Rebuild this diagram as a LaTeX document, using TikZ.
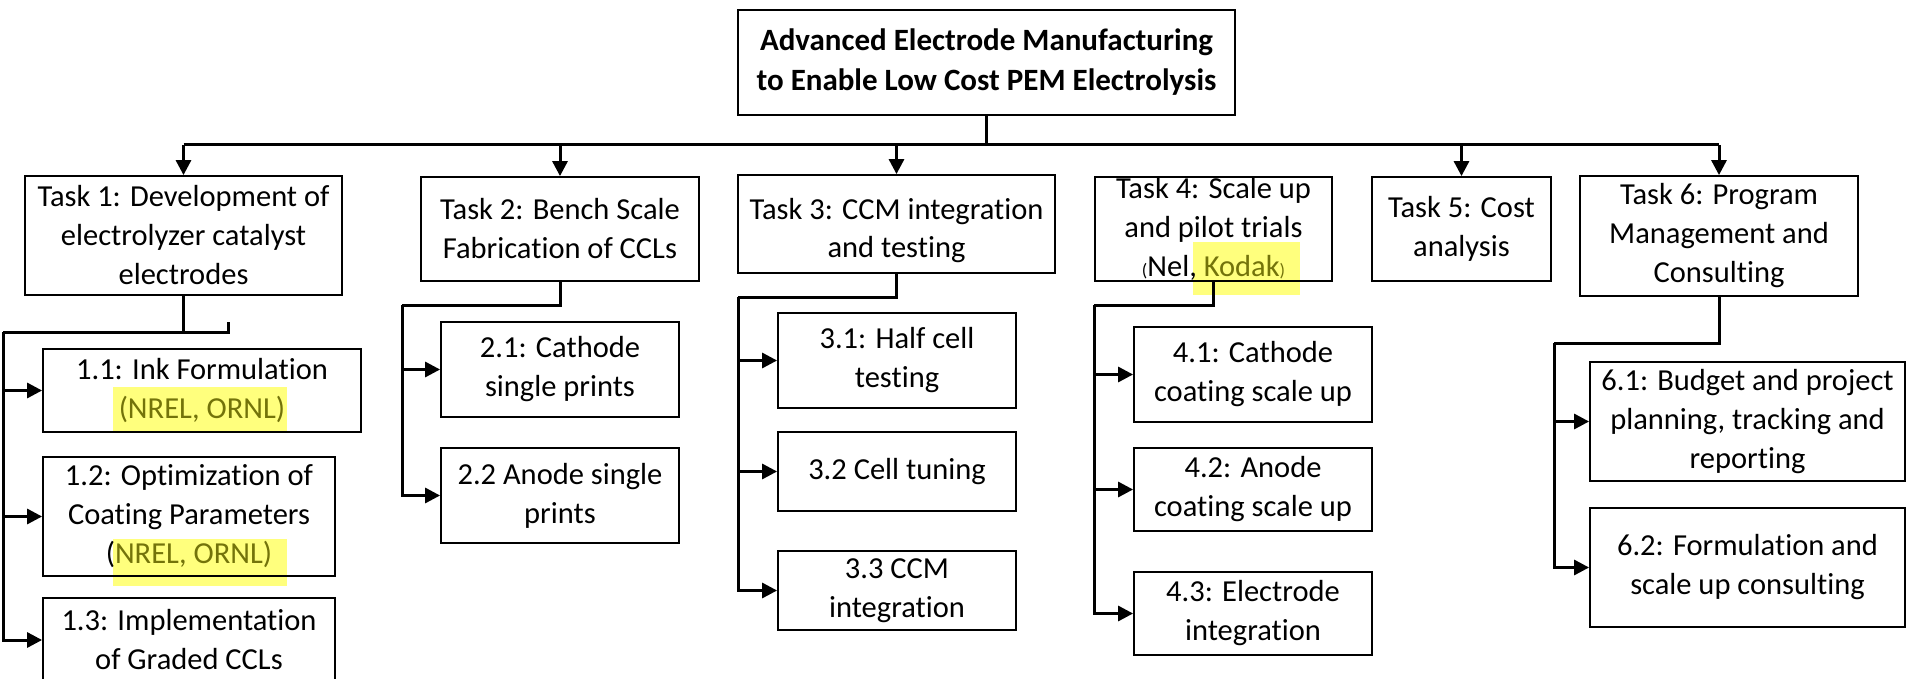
\documentclass[tikz,border=0pt]{standalone}
\usepackage{fontspec}
\setmainfont{Carlito}[Ligatures={NoCommon},RawFeature={-liga;-clig;-calt;-dlig}]
\usetikzlibrary{arrows.meta}
\definecolor{oltext}{RGB}{115,115,10}
\definecolor{hlyellow}{RGB}{255,255,125}
\newcommand{\ol}[1]{\textcolor{oltext}{#1}}
\newcommand{\smp}[1]{{\fontsize{18}{18}\selectfont #1}}
\tikzset{
  box/.style={draw=black, line width=1.8pt, inner sep=0pt, align=center,
    font=\fontsize{30.5}{39}\selectfont},
  titlebox/.style={box, font=\bfseries\fontsize{31}{40}\selectfont},
  conn/.style={line width=3pt},
  arr/.style={line width=3pt, -{Triangle[length=15pt,width=15pt]}},
  hl/.style={fill=hlyellow}
}
\begin{document}
\begin{tikzpicture}[x=1pt,y=-1pt]
\useasboundingbox (0,0) rectangle (1907,679);
\clip (0,0) rectangle (1907,679);
\fill[white] (0,0) rectangle (1907,679);
% highlights
\fill[hl] (113,387) rectangle (287,433);
\fill[hl] (113,539) rectangle (287,586);
\fill[hl] (1193,242) rectangle (1300,295);
% top
\node[titlebox, minimum width=497pt, minimum height=105pt] (top) at (986.5,62.5)
  {Advanced Electrode Manufacturing\\to Enable Low Cost PEM Electrolysis};
% tasks
\node[box, minimum width=317pt, minimum height=119pt] (t1) at (183.5,235.5)
  {Task 1: Development of\\electrolyzer catalyst\\electrodes};
\node[box, minimum width=278pt, minimum height=104pt] (t2) at (560,229)
  {Task 2: Bench Scale\\Fabrication of CCLs};
\node[box, minimum width=317pt, minimum height=98pt] (t3) at (896.5,224)
  {\raisebox{-7pt}[\height][\depth]{\begin{tabular}{@{}c@{}}Task 3: CCM integration\\[-1pt]and testing\end{tabular}}};
\node[box, minimum width=237pt, minimum height=104pt] (t4) at (1213.5,229)
  {Task 4: Scale up\\and pilot trials\\\smp{(}Nel, \ol{Kodak\smp{)}}};
\node[box, minimum width=179pt, minimum height=104pt] (t5) at (1461.5,229)
  {Task 5: Cost\\analysis};
\node[box, minimum width=278pt, minimum height=120pt] (t6) at (1719,236)
  {Task 6: Program\\Management and\\Consulting};
% subtasks
\node[box, minimum width=318pt, minimum height=83pt] (s11) at (202,390.5)
  {1.1: Ink Formulation\\\ol{(NREL, ORNL)}};
\node[box, minimum width=292pt, minimum height=119pt] (s12) at (189,516.5)
  {1.2: Optimization of\\Coating Parameters\\(\ol{NREL, ORNL)}};
\node[box, minimum width=292pt, minimum height=84pt] (s13) at (189,640)
  {1.3: Implementation\\of Graded CCLs};
\node[box, minimum width=238pt, minimum height=95pt] (s21) at (560,369.5)
  {2.1: Cathode\\single prints};
\node[box, minimum width=238pt, minimum height=95pt] (s22) at (560,495.5)
  {2.2 Anode single\\prints};
\node[box, minimum width=238pt, minimum height=95pt] (s31) at (897,360.5)
  {3.1: Half cell\\testing};
\node[box, minimum width=238pt, minimum height=79pt] (s32) at (897,471.5)
  {3.2 Cell tuning};
\node[box, minimum width=238pt, minimum height=79pt] (s33) at (897,590.5)
  {3.3 CCM\\integration};
\node[box, minimum width=238pt, minimum height=95pt] (s41) at (1253,374.5)
  {4.1: Cathode\\coating scale up};
\node[box, minimum width=238pt, minimum height=83pt] (s42) at (1253,489.5)
  {4.2: Anode\\coating scale up};
\node[box, minimum width=238pt, minimum height=83pt] (s43) at (1253,613.5)
  {4.3: Electrode\\integration};
\node[box, minimum width=315pt, minimum height=119pt] (s61) at (1747.5,421.5)
  {6.1: Budget and project\\planning, tracking and\\reporting};
\node[box, minimum width=315pt, minimum height=119pt] (s62) at (1747.5,567.5)
  {6.2: Formulation and\\scale up consulting};
% top connectors
\coordinate (bar) at (986.5,145);
\draw[conn] (top.south) -- (bar);
\draw[conn] (t1.north |- bar) -- (t6.north |- bar);
\draw[arr] (t1.north |- bar) -- (t1.north);
\draw[arr] (t2.north |- bar) -- (t2.north);
\draw[arr] (t3.north |- bar) -- (t3.north);
\draw[arr] (t5.north |- bar) -- (t5.north);
\draw[arr] (t6.north |- bar) -- (t6.north);
% task 1 branch
\coordinate (k1) at (3,332);
\coordinate (stub) at (228,322);
\draw[conn] (t1.south) -- (t1.south |- k1);
\draw[conn] (stub) |- (k1);
\draw[arr] (k1) |- (s13.west);
\draw[arr] (k1 |- s11.west) -- (s11.west);
\draw[arr] (k1 |- s12.west) -- (s12.west);
% task 2 branch
\coordinate (k2) at (402,305);
\draw[conn] (t2.south) |- (k2);
\draw[arr] (k2) |- (s22.west);
\draw[arr] (k2 |- s21.west) -- (s21.west);
% task 3 branch
\coordinate (k3) at (738,297);
\draw[conn] (t3.south) |- (k3);
\draw[arr] (k3) |- (s33.west);
\draw[arr] (k3 |- s31.west) -- (s31.west);
\draw[arr] (k3 |- s32.west) -- (s32.west);
% task 4 branch
\coordinate (k4) at (1094,305);
\draw[conn] (t4.south) |- (k4);
\draw[arr] (k4) |- (s43.west);
\draw[arr] (k4 |- s41.west) -- (s41.west);
\draw[arr] (k4 |- s42.west) -- (s42.west);
% task 6 branch
\coordinate (k6) at (1554,343);
\draw[conn] (t6.south) |- (k6);
\draw[arr] (k6) |- (s62.west);
\draw[arr] (k6 |- s61.west) -- (s61.west);
\end{tikzpicture}
\end{document}
